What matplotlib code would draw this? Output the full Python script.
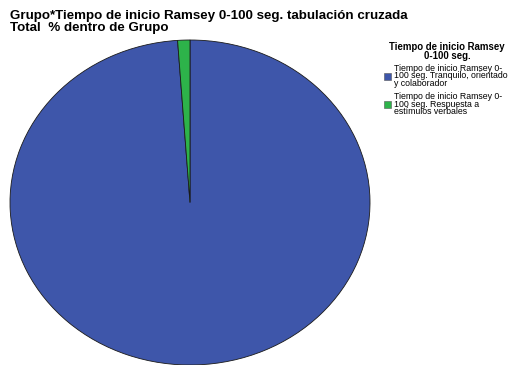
import matplotlib
matplotlib.use("Agg")
import matplotlib.pyplot as plt

categories = ["Tiempo de inicio Ramsey 0-\n100 seg. Tranquilo, orientado\ny colaborador",
              "Tiempo de inicio Ramsey 0-\n100 seg. Respuesta a\nestímulos verbales"]
values = [98.9, 1.1]
colors = ["#3E56AA", "#2DB34A"]
title = "Grupo*Tiempo de inicio Ramsey 0-100 seg. tabulación cruzada\nTotal  % dentro de Grupo"
legend_title = "Tiempo de inicio Ramsey\n0-100 seg."

plt.rcParams['font.family'] = ['Liberation Sans', 'DejaVu Sans']
W, H = 513, 365
fig = plt.figure(figsize=(W/100, H/100), dpi=100)
fig.patch.set_facecolor("white")

# pie area: x 10..370, y 40..365 (pixels from top)
ax = fig.add_axes([10/W, (H-365)/H, 360/W, 325/H])
wedges, _ = ax.pie(values, colors=colors, startangle=90, counterclock=False,
                   wedgeprops=dict(edgecolor="#1a1a1a", linewidth=0.6))
ax.set_aspect('auto')
ax.set_xlim(-1, 1)
ax.set_ylim(-1, 1)
ax.axis('off')

fig.text(10/W, 1-10/H, title, fontsize=9.6, fontweight='bold', va='top', ha='left',
         linespacing=1.0)

fig.text(447/W, 1-42/H, legend_title, fontsize=6.9, fontweight='bold', va='top',
         ha='center', multialignment='center', linespacing=0.85)

leg = fig.legend(wedges, categories, loc='upper left',
                 bbox_to_anchor=(384/W, 1-64/H), frameon=False, fontsize=6.3,
                 handlelength=0.85, handleheight=0.85, handletextpad=0.35,
                 labelspacing=0.55, borderaxespad=0, borderpad=0)
for t in leg.get_texts():
    t.set_linespacing(0.76)
for h in leg.legend_handles:
    h.set_edgecolor("#555555")
    h.set_linewidth(0.4)

fig.savefig("out.png", dpi=100, facecolor="white")
